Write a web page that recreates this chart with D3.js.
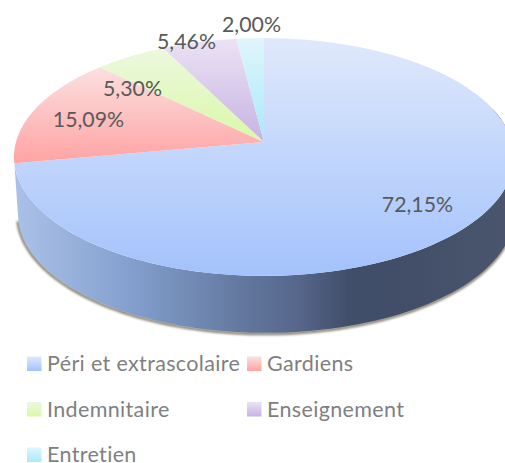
<!DOCTYPE html>
<html><head><meta charset="utf-8">
<script src="https://cdn.jsdelivr.net/npm/d3@7"></script>
<style>html,body{margin:0;background:#fff}svg{display:block}</style></head>
<body><svg id="c" width="505" height="463"></svg>
<script>
const categories = ["Péri et extrascolaire","Gardiens","Indemnitaire","Enseignement","Entretien"];
const values = [72.15,15.09,5.30,5.46,2.00];
const labels = ["72,15%","15,09%","5,30%","5,46%","2,00%"];
const topColors = ["#e0e9fb","#fbe0e0","#ecf8de","#ebe3f4","#e0f5fb"];
const bottomColors = ["#a3c2fb","#ffa3a3","#d9f9a8","#c7b2e3","#a8e9fa"];
const labelPos = [[417.5,205],[88.5,120],[132.5,89],[186.5,42],[251.5,25]];
const legendPos = [[27,364],[247,364],[27,409.5],[247,409.5],[27,455]];

const svg = d3.select("#c");
const defs = svg.append("defs");
const apex = {x:264,y:142}, A=248, B=117, K=0.126, DEPTH=57;
const project = th => { const u=Math.sin(th), v=Math.cos(th), w=1+K*v;
  return [apex.x+A*u/w, apex.y-B*v/w]; };
const lower = p => [apex.x+2+(p[0]-apex.x)*0.992, p[1]+DEPTH];
const pie = d3.pie().sort(null).value(d=>d)(values);
const line = d3.line();

function grad(id,c0,c1){
  const g=defs.append("linearGradient").attr("id",id).attr("x1",0).attr("y1",0).attr("x2",0).attr("y2",1);
  g.append("stop").attr("offset",0).attr("stop-color",c0);
  g.append("stop").attr("offset",1).attr("stop-color",c1);
}
values.forEach((_,i)=>grad("s"+i,topColors[i],bottomColors[i]));
const wall=defs.append("linearGradient").attr("id","wall").attr("x1",0).attr("x2",1).attr("y1",0).attr("y2",0);
[[0,"#a9c0e8"],[0.05,"#a3bae2"],[0.23,"#84a0cf"],[0.45,"#64799f"],[0.57,"#55668a"],[0.67,"#414e6a"],[0.8,"#434e68"],[1,"#4b566e"]]
  .forEach(s=>wall.append("stop").attr("offset",s[0]).attr("stop-color",s[1]));
const blur=defs.append("filter").attr("id","sh").attr("x","-5%").attr("y","-5%").attr("width","110%").attr("height","120%");
blur.append("feGaussianBlur").attr("stdDeviation",1.3);

function arcPts(a0,a1){ return d3.range(0,101).map(t=>project(a0+(a1-a0)*t/100)); }

// side wall: front arc of the first slice
const s0=pie[0], front=arcPts(Math.PI/2-0.3,s0.endAngle);
const low=front.map(lower);
const wallPts=front.concat(low.slice().reverse());
svg.append("path").attr("d",line(low.map(p=>[p[0]-0.5,p[1]+1]))).attr("fill","none")
  .attr("stroke","#8a8578").attr("stroke-width",3).attr("filter","url(#sh)");
svg.append("path").attr("d",line(wallPts)+"Z").attr("fill","url(#wall)");

// top face
pie.forEach((d,i)=>{
  const pts=[[apex.x,apex.y]].concat(arcPts(d.startAngle,d.endAngle));
  svg.append("path").attr("d",line(pts)+"Z").attr("fill",`url(#s${i})`);
});

svg.append("g").selectAll("text").data(labels).join("text")
  .attr("x",(d,i)=>labelPos[i][0]).attr("y",(d,i)=>labelPos[i][1]+7)
  .attr("text-anchor","middle").attr("font-family","Lato").attr("font-size",21.3)
  .attr("fill","#595959").text(d=>d);

const lg=svg.append("g").selectAll("g").data(categories).join("g")
  .attr("transform",(d,i)=>`translate(${legendPos[i][0]},${legendPos[i][1]})`);
lg.append("rect").attr("x",0).attr("y",-7.5).attr("width",14.5).attr("height",14.5)
  .attr("fill",(d,i)=>`url(#s${i})`);
lg.append("text").attr("x",20).attr("y",7).attr("font-family","Lato").attr("font-size",21.5)
  .attr("letter-spacing",0.35).attr("fill","#7f7f7f").text(d=>d);
</script></body></html>
